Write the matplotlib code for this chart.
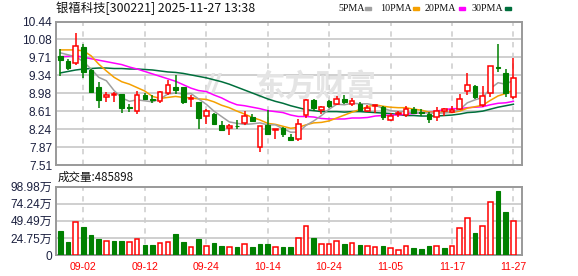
import matplotlib
matplotlib.use('Agg')
import matplotlib.pyplot as plt
from matplotlib.patches import Rectangle
import numpy as np

plt.rcParams['font.family'] = ['Liberation Sans', 'Noto Sans CJK SC']

W, H = 578, 276

# daily candles 2025-08-28 .. 2025-11-27 (60 trading days)
opens = [9.74, 9.63, 9.60, 9.92, 9.44, 9.10, 8.89, 8.94, 8.95, 8.70,
         8.61, 8.93, 8.86, 8.82, 8.98, 9.11, 9.10, 8.85, 8.79, 8.52,
         8.56, 8.32, 8.26, 8.31, 8.36, 8.49, 7.87, 8.33, 8.22, 8.26,
         8.09, 8.04, 8.53, 8.84, 8.64, 8.82, 8.76, 8.86, 8.76, 8.76,
         8.61, 8.72, 8.69, 8.42, 8.55, 8.54, 8.65, 8.59, 8.56, 8.50,
         8.61, 8.59, 8.65, 9.03, 9.13, 8.74, 8.98, 9.51, 9.39, 8.90]
highs = [9.88, 9.68, 10.20, 9.98, 9.46, 9.21, 9.00, 9.01, 8.95, 8.76,
         9.03, 8.97, 8.94, 9.03, 9.25, 9.35, 9.11, 8.93, 8.80, 8.65,
         8.57, 8.40, 8.35, 8.42, 8.61, 8.55, 8.31, 8.64, 8.25, 8.29,
         8.14, 8.44, 8.86, 8.86, 8.72, 8.84, 8.91, 8.94, 8.87, 8.79,
         8.73, 8.74, 8.72, 8.57, 8.61, 8.72, 8.69, 8.65, 8.59, 8.69,
         8.67, 8.71, 8.96, 9.39, 9.14, 9.13, 9.53, 9.98, 9.46, 9.69]
lows = [9.32, 9.44, 9.56, 9.28, 8.99, 8.67, 8.79, 8.79, 8.57, 8.59,
        8.55, 8.83, 8.77, 8.78, 8.93, 8.95, 8.76, 8.69, 8.25, 8.35,
        8.33, 8.20, 8.12, 8.25, 8.32, 8.39, 7.77, 8.13, 8.04, 8.08,
        8.01, 8.01, 8.46, 8.61, 8.55, 8.68, 8.73, 8.76, 8.71, 8.61,
        8.59, 8.58, 8.42, 8.40, 8.50, 8.50, 8.55, 8.52, 8.36, 8.40,
        8.52, 8.57, 8.64, 8.93, 8.86, 8.69, 8.90, 9.40, 8.90, 8.86]
closes = [9.65, 9.50, 9.94, 9.40, 9.01, 8.83, 8.94, 8.96, 8.67, 8.67,
          8.94, 8.86, 8.83, 9.00, 9.14, 9.05, 8.79, 8.87, 8.46, 8.61,
          8.34, 8.23, 8.31, 8.30, 8.51, 8.40, 8.31, 8.15, 8.25, 8.14,
          8.03, 8.35, 8.84, 8.67, 8.69, 8.71, 8.86, 8.79, 8.81, 8.64,
          8.68, 8.74, 8.50, 8.52, 8.58, 8.65, 8.57, 8.57, 8.44, 8.61,
          8.65, 8.64, 8.86, 9.14, 8.89, 8.91, 9.53, 9.50, 8.97, 9.28]

ma5 = [9.80, 9.76, 9.72, 9.62, 9.47, 9.30, 9.23, 9.03, 8.88, 8.81,
       8.84, 8.82, 8.80, 8.86, 8.96, 8.98, 8.96, 8.97, 8.86, 8.75,
       8.61, 8.50, 8.39, 8.36, 8.34, 8.35, 8.37, 8.33, 8.33, 8.25,
       8.18, 8.18, 8.32, 8.41, 8.52, 8.65, 8.75, 8.74, 8.77, 8.76,
       8.76, 8.73, 8.67, 8.62, 8.60, 8.60, 8.57, 8.58, 8.57, 8.57,
       8.57, 8.59, 8.64, 8.78, 8.84, 8.89, 9.07, 9.19, 9.16, 9.24]
ma10 = [9.86, 9.86, 9.86, 9.84, 9.74, 9.57, 9.43, 9.30, 9.21, 9.16,
        9.09, 9.02, 8.91, 8.87, 8.89, 8.91, 8.89, 8.88, 8.86, 8.85,
        8.80, 8.73, 8.68, 8.61, 8.55, 8.48, 8.43, 8.36, 8.34, 8.30,
        8.26, 8.28, 8.33, 8.37, 8.38, 8.41, 8.47, 8.53, 8.59, 8.64,
        8.70, 8.74, 8.71, 8.69, 8.68, 8.68, 8.65, 8.63, 8.59, 8.59,
        8.59, 8.58, 8.61, 8.67, 8.70, 8.73, 8.83, 8.92, 8.97, 9.04]
ma20 = [9.72, 9.73, 9.74, 9.71, 9.68, 9.65, 9.62, 9.59, 9.56, 9.51,
        9.47, 9.42, 9.37, 9.32, 9.27, 9.22, 9.15, 9.08, 9.03, 9.01,
        8.94, 8.88, 8.80, 8.74, 8.72, 8.69, 8.66, 8.62, 8.60, 8.58,
        8.53, 8.50, 8.50, 8.49, 8.46, 8.45, 8.45, 8.45, 8.47, 8.47,
        8.48, 8.51, 8.52, 8.53, 8.53, 8.55, 8.56, 8.58, 8.59, 8.61,
        8.64, 8.66, 8.66, 8.68, 8.69, 8.70, 8.74, 8.77, 8.78, 8.81]
ma30 = [9.39, 9.42, 9.45, 9.47, 9.48, 9.49, 9.49, 9.48, 9.48, 9.47,
        9.47, 9.46, 9.45, 9.43, 9.41, 9.40, 9.38, 9.35, 9.32, 9.29,
        9.25, 9.21, 9.16, 9.10, 9.04, 8.98, 8.92, 8.86, 8.81, 8.77,
        8.72, 8.68, 8.64, 8.62, 8.60, 8.60, 8.60, 8.59, 8.60, 8.60,
        8.59, 8.58, 8.57, 8.56, 8.54, 8.52, 8.52, 8.51, 8.51, 8.51,
        8.52, 8.53, 8.55, 8.58, 8.59, 8.61, 8.65, 8.69, 8.72, 8.75]

# volume in 万 (10k shares), r = red/up bar, g = green/down bar
volume = [34.8, 18.8, 47.3, 40.6, 29.0, 23.2, 19.8, 20.3, 20.3, 18.3,
          22.7, 14.5, 14.5, 17.4, 18.3, 30.4, 18.8, 11.6, 23.2, 13.0,
          17.4, 13.5, 11.6, 11.6, 15.4, 11.6, 15.9, 15.9, 11.6, 11.6,
          11.6, 24.1, 41.5, 24.6, 15.4, 15.4, 19.8, 15.9, 16.9, 14.0,
          12.6, 11.6, 13.0, 10.1, 6.8, 13.0, 10.1, 8.7, 13.0, 13.0,
          10.1, 13.0, 38.6, 53.1, 31.9, 41.5, 76.3, 92.7, 62.3, 48.59]
vol_dir = "ggrgggrggrrggrrggrgrggrgrgggrg" + "grrgrrrgrgrrgrrrgggrgrrrgrrggr"

price_ticks = [7.51, 7.87, 8.24, 8.61, 8.98, 9.34, 9.71, 10.08, 10.44]
vol_ticks = [0, 24.75, 49.49, 74.24, 98.98]
date_pos = [3, 11, 19, 27, 35, 43, 51, 59]
date_labels = ['09-02', '09-12', '09-24', '10-14', '10-24', '11-05', '11-17', '11-27']

RED = '#ff0000'
GREEN = '#008000'
FRAME = '#999999'
GRID = '#cccccc'
LBL = '#1c2140'

fig = plt.figure(figsize=(W / 100, H / 100), dpi=100)
ax = fig.add_axes([55.5 / W, 1 - 165 / H, 466.5 / W, 143.5 / H])
axv = fig.add_axes([55.5 / W, 1 - 255 / H, 466.5 / W, 68.3 / H])

idx = np.arange(len(opens))
o = np.array(opens)
c = np.array(closes)
hi = np.array(highs)
lo = np.array(lows)
up = c >= o
top = np.maximum(o, c)
bot = np.minimum(o, c)
body = np.maximum(top - bot, 0.004)

for a in (ax, axv):
    a.set_xlim(-0.63, 60.12)
    for s in a.spines.values():
        s.set_color(FRAME)
        s.set_linewidth(1.4)
    a.tick_params(length=0, colors=LBL, labelsize=8.6, pad=2.5)
    for p in date_pos:
        a.axvline(p, color=GRID, lw=1.1, dashes=(3.5, 3.5), zorder=0)

# price panel
ax.set_ylim(7.51, 10.44)
ax.set_yticks(price_ticks)
ax.set_yticklabels([f'{v:.2f}' for v in price_ticks])
ax.set_xticks([])
for v in price_ticks[1:-1]:
    ax.axhline(v, color=GRID, lw=1.3, zorder=0)

# watermark
ax.text(0.556, 0.55, '东方财富', transform=ax.transAxes, fontsize=22,
        fontweight='bold', color='#e4e4e4', ha='center', va='center',
        family=['Noto Sans CJK SC'], zorder=1)
ax.text(0.335, 0.55, '//', transform=ax.transAxes, fontsize=20,
        fontweight='bold', fontstyle='italic', color='#e4e4e4',
        ha='center', va='center', zorder=1)

ax.plot(idx, ma30, color='#006f3c', lw=1.1, zorder=2)
ax.plot(idx, ma20, color='#ff00ff', lw=1.1, zorder=2)
ax.plot(idx, ma10, color='#f5a000', lw=1.1, zorder=2)
ax.plot(idx, ma5, color='#a0a0a0', lw=1.1, zorder=2)

ax.vlines(idx[up], top[up], hi[up], color=RED, lw=1.1, zorder=3)
ax.vlines(idx[up], lo[up], bot[up], color=RED, lw=1.1, zorder=3)
ax.vlines(idx[~up], lo[~up], hi[~up], color=GREEN, lw=1.1, zorder=3)
ax.bar(idx[up], body[up], bottom=bot[up], width=0.6, facecolor='white',
       edgecolor=RED, linewidth=1.1, zorder=4)
ax.bar(idx[~up], body[~up], bottom=bot[~up], width=0.6, facecolor=GREEN,
       edgecolor=GREEN, linewidth=0.8, zorder=4)

# volume panel
vol = np.array(volume)
vred = np.array([d == 'r' for d in vol_dir])
axv.set_ylim(0, 98.98)
axv.set_yticks(vol_ticks)
axv.set_yticklabels(['0'] + [f'{v:.2f}万' for v in vol_ticks[1:]])
for v in vol_ticks[1:-1]:
    axv.axhline(v, color=GRID, lw=1.3, zorder=0)
axv.bar(idx[vred], vol[vred], width=0.6, facecolor='white', edgecolor=RED,
        linewidth=1.1, zorder=3)
axv.bar(idx[~vred], vol[~vred], width=0.6, facecolor=GREEN, edgecolor=GREEN,
        linewidth=0.8, zorder=3)
axv.set_xticks(date_pos)
axv.set_xticklabels(date_labels, color=RED, fontsize=7.6)
axv.tick_params(axis='x', pad=5)

# header texts
fig.text(56 / W, 1 - 8.5 / H, '银禧科技[300221] 2025-11-27 13:38', fontsize=8.9,
         color='#111111', va='center', ha='left', family=['Noto Sans CJK SC'])
legend = [('5PMA', 338, 365, '#a0a0a0'), ('10PMA', 380, 413, '#f5a000'),
          ('20PMA', 425, 459, '#ff00ff'), ('30PMA', 472, 505, '#006f3c')]
for name, tx, sx, col in legend:
    fig.text(tx / W, 1 - 8.5 / H, name, fontsize=7.2, color='#111111',
             va='center', ha='left', family=['Liberation Serif'])
    fig.patches.append(Rectangle((sx / W, 1 - 10 / H), 6 / W, 3 / H,
                                 transform=fig.transFigure, color=col))
fig.text(58 / W, 1 - 177 / H, '成交量:485898', fontsize=8.3, color='#111111',
         va='center', ha='left', family=['Noto Sans CJK SC'])

fig.savefig('out.png', dpi=100)
